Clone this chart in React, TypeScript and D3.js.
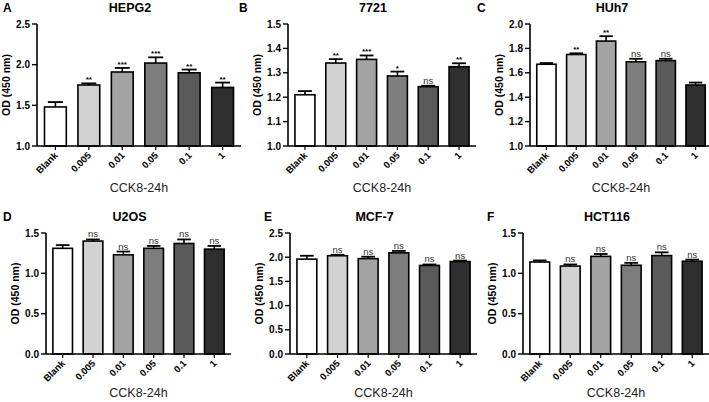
import React from "react";
import * as d3 from "d3";

const categories = ["Blank", "0.005", "0.01", "0.05", "0.1", "1"];
const barColors = ["#ffffff", "#d2d2d2", "#a3a3a3", "#7d7d7d", "#5a5a5a", "#2f2f2f"];

const hepg2Values = [1.48, 1.75, 1.91, 2.02, 1.9, 1.72];
const hepg2Errors = [0.06, 0.02, 0.05, 0.07, 0.04, 0.06];
const hepg2Sig = ["", "**", "***", "***", "**", "**"];

const smmc7721Values = [1.21, 1.34, 1.355, 1.287, 1.243, 1.325];
const smmc7721Errors = [0.015, 0.016, 0.016, 0.018, 0.004, 0.014];
const smmc7721Sig = ["", "**", "***", "*", "ns", "**"];

const huh7Values = [1.67, 1.75, 1.86, 1.69, 1.7, 1.5];
const huh7Errors = [0.01, 0.01, 0.04, 0.025, 0.015, 0.02];
const huh7Sig = ["", "**", "**", "ns", "ns", ""];

const u2osValues = [1.31, 1.4, 1.23, 1.31, 1.37, 1.3];
const u2osErrors = [0.04, 0.02, 0.04, 0.03, 0.05, 0.04];
const u2osSig = ["", "ns", "ns", "ns", "ns", "ns"];

const mcf7Values = [1.96, 2.03, 1.97, 2.09, 1.83, 1.91];
const mcf7Errors = [0.07, 0.02, 0.04, 0.04, 0.02, 0.02];
const mcf7Sig = ["", "ns", "ns", "ns", "ns", "ns"];

const hct116Values = [1.14, 1.09, 1.21, 1.1, 1.22, 1.15];
const hct116Errors = [0.02, 0.02, 0.03, 0.03, 0.04, 0.02];
const hct116Sig = ["", "ns", "ns", "ns", "ns", "ns"];

const topTicksA = [1.0, 1.5, 2.0, 2.5];
const topTicksB = [1.0, 1.1, 1.2, 1.3, 1.4, 1.5];
const topTicksC = [1.0, 1.2, 1.4, 1.6, 1.8, 2.0];
const bottomTicks15 = [0.0, 0.5, 1.0, 1.5];
const bottomTicks25 = [0.0, 0.5, 1.0, 1.5, 2.0, 2.5];

const FONT = "'Liberation Sans', Arial, Helvetica, sans-serif";

type PanelProps = {
  letter: string;
  title: string;
  values: number[];
  errors: number[];
  sig: string[];
  ticks: number[];
  x0: number;
  x1: number;
  yTop: number;
  yBottom: number;
  letterX: number;
  xTitleDy: number;
};

function Panel(p: PanelProps) {
  const domain: [number, number] = [p.ticks[0], p.ticks[p.ticks.length - 1]];
  const y = d3.scaleLinear().domain(domain).range([p.yBottom, p.yTop]);
  const x = d3
    .scaleBand<string>()
    .domain(categories)
    .range([p.x0, p.x1])
    .paddingInner(0.3)
    .paddingOuter(0.2);
  const bw = x.bandwidth();
  const cx = (p.x0 + p.x1) / 2;
  const fmt = d3.format(".1f");
  return (
    <g>
      <text x={p.letterX} y={p.yTop - 12} fontFamily={FONT} fontWeight="bold" fontSize={12}>
        {p.letter}
      </text>
      <text x={cx - 9} y={p.yTop - 12} fontFamily={FONT} fontWeight="bold" fontSize={12.5} textAnchor="middle">
        {p.title}
      </text>
      {categories.map((c, i) => {
        const bx = x(c)!;
        const top = y(p.values[i]);
        const errTop = y(p.values[i] + p.errors[i]);
        const mx = bx + bw / 2;
        const capW = bw * 0.32;
        return (
          <g key={c}>
            <line x1={mx} x2={mx} y1={top} y2={errTop} stroke="#000" strokeWidth={1.6} />
            <line x1={mx - capW} x2={mx + capW} y1={errTop} y2={errTop} stroke="#000" strokeWidth={1.8} />
            <rect
              x={bx + 0.8}
              y={top}
              width={bw - 1.6}
              height={p.yBottom - top}
              fill={barColors[i]}
              stroke="#000"
              strokeWidth={1.6}
            />
            {p.sig[i] && (
              <text
                x={mx}
                y={errTop - (p.sig[i] === "ns" ? 2 : 1)}
                fontFamily={FONT}
                fontSize={p.sig[i] === "ns" ? 9.5 : 8}
                fontWeight={p.sig[i] === "ns" ? "normal" : "bold"}
                textAnchor="middle"
                fill={p.sig[i] === "ns" ? "#333" : "#000"}
              >
                {p.sig[i]}
              </text>
            )}
            <line x1={mx} x2={mx} y1={p.yBottom} y2={p.yBottom + 4} stroke="#000" strokeWidth={1.2} />
            <text
              transform={`translate(${mx + 3},${p.yBottom + 10}) rotate(-45)`}
              fontFamily={FONT}
              fontWeight="bold"
              fontSize={9.5}
              textAnchor="end"
            >
              {c}
            </text>
          </g>
        );
      })}
      <line x1={p.x0} x2={p.x0} y1={p.yTop} y2={p.yBottom} stroke="#000" strokeWidth={1.6} />
      <line x1={p.x0} x2={p.x1} y1={p.yBottom} y2={p.yBottom} stroke="#000" strokeWidth={1.6} />
      {p.ticks.map((t) => (
        <g key={t}>
          <line x1={p.x0 - 5} x2={p.x0} y1={y(t)} y2={y(t)} stroke="#000" strokeWidth={1.4} />
          <text
            x={p.x0 - 7}
            y={y(t) + 3.5}
            fontFamily={FONT}
            fontWeight="bold"
            fontSize={10}
            textAnchor="end"
          >
            {fmt(t)}
          </text>
        </g>
      ))}
      <text
        transform={`translate(${p.x0 - 27},${(p.yTop + p.yBottom) / 2}) rotate(-90)`}
        fontFamily={FONT}
        fontWeight="bold"
        fontSize={10.5}
        textAnchor="middle"
      >
        OD (450 nm)
      </text>
      <text x={cx} y={p.yBottom + p.xTitleDy} fontFamily={FONT} fontSize={12.5} textAnchor="middle" fill="#222">
        CCK8-24h
      </text>
    </g>
  );
}

export default function App() {
  return (
    <svg
      width={709}
      height={402}
      style={{ position: "absolute", left: 0, top: 0, background: "#fff" }}
    >
      <rect width={709} height={402} fill="#fff" />
      <Panel letter="A" title="HEPG2" values={hepg2Values} errors={hepg2Errors} sig={hepg2Sig}
        ticks={topTicksA} x0={37} x1={241} yTop={24} yBottom={146} letterX={3} xTitleDy={46} />
      <Panel letter="B" title="7721" values={smmc7721Values} errors={smmc7721Errors} sig={smmc7721Sig}
        ticks={topTicksB} x0={288} x1={476} yTop={24} yBottom={146} letterX={239} xTitleDy={46} />
      <Panel letter="C" title="HUh7" values={huh7Values} errors={huh7Errors} sig={huh7Sig}
        ticks={topTicksC} x0={530} x1={712} yTop={24} yBottom={146} letterX={477} xTitleDy={46} />
      <Panel letter="D" title="U2OS" values={u2osValues} errors={u2osErrors} sig={u2osSig}
        ticks={bottomTicks15} x0={46} x1={231} yTop={233} yBottom={354} letterX={3} xTitleDy={43} />
      <Panel letter="E" title="MCF-7" values={mcf7Values} errors={mcf7Errors} sig={mcf7Sig}
        ticks={bottomTicks25} x0={290} x1={477} yTop={233} yBottom={354} letterX={264} xTitleDy={43} />
      <Panel letter="F" title="HCT116" values={hct116Values} errors={hct116Errors} sig={hct116Sig}
        ticks={bottomTicks15} x0={523} x1={709} yTop={233} yBottom={354} letterX={487} xTitleDy={43} />
    </svg>
  );
}
